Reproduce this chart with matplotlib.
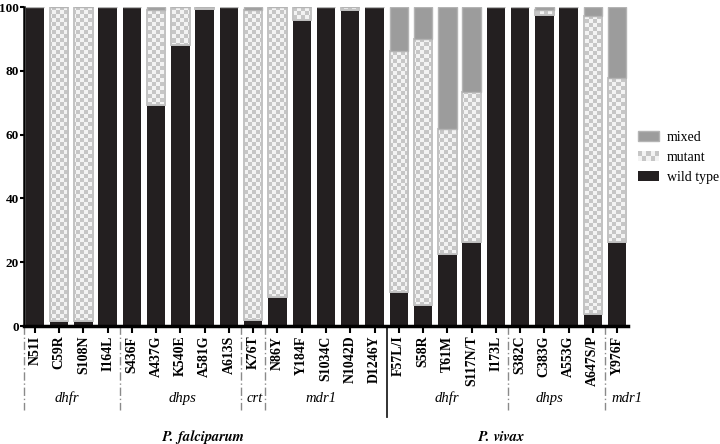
import numpy as np
import matplotlib
matplotlib.use("Agg")
import matplotlib.pyplot as plt
import matplotlib.transforms as mtrans
from matplotlib.patches import Rectangle, Patch
from matplotlib.legend_handler import HandlerBase

plt.rcParams['font.family'] = 'serif'
plt.rcParams['font.serif'] = ['Liberation Serif', 'FreeSerif', 'DejaVu Serif']

categories = ["N51I", "C59R", "S108N", "I164L", "S436F", "A437G", "K540E", "A581G",
              "A613S", "K76T", "N86Y", "Y184F", "S1034C", "N1042D", "D1246Y",
              "F57L/I", "S58R", "T61M", "S117N/T", "I173L", "S382C", "C383G",
              "A553G", "A647S/P", "Y976F"]
wild_type = [100, 1.5, 1.5, 100, 100, 69.2, 88, 99.5, 100, 2, 9, 96, 100, 99, 100,
             10.7, 6.7, 22.6, 26.2, 100, 100, 97.5, 100, 3.9, 26.4]
mutant = [0, 98.5, 98.5, 0, 0, 30, 12, 0.5, 0, 97.2, 91, 4, 0, 1, 0,
          75.5, 83.4, 39, 47.1, 0, 0, 1.5, 0, 93.4, 51.2]
mixed = [0, 0, 0, 0, 0, 0.8, 0, 0, 0, 0.8, 0, 0, 0, 0, 0,
         13.8, 9.9, 38.4, 26.7, 0, 0, 1, 0, 2.7, 22.4]
gene_labels = ["dhfr", "dhps", "crt", "mdr1", "dhfr", "dhps", "mdr1"]
gene_label_x = [1.3, 6.1, 9.05, 11.8, 17.0, 21.2, 24.4]
species = ["P. falciparum", "P. vivax"]
species_x = [6.9, 19.2]
dashed_sep = [-0.47, 3.5, 8.5, 9.5, 19.5, 23.5]
solid_sep = [14.5]

WILD = '#231f20'
MIXED = '#9c9c9c'
MIXED_EDGE = '#b4b4b4'
CHK_DARK = '#c6c6c6'
CHK_LIGHT = '#f3f3f3'
MUT_EDGE = '#c2c2c2'

fig = plt.figure(figsize=(7.2, 4.44), dpi=100)
ax = fig.add_axes([24 / 720, 1 - 326 / 444, 604 / 720, 319 / 444])

x = np.arange(len(categories))
w = 0.76
wild_arr = np.array(wild_type)
mut_arr = np.array(mutant)
mix_arr = np.array(mixed)

ax.bar(x, wild_arr, width=w, color=WILD, edgecolor='none', zorder=3)
mut_bars = ax.bar(x, mut_arr, width=w, bottom=wild_arr, facecolor='none',
                  edgecolor=MUT_EDGE, linewidth=1.4, zorder=4)
ax.bar(x, mix_arr, width=w, bottom=wild_arr + mut_arr, color=MIXED,
       edgecolor=MIXED_EDGE, linewidth=1.0, zorder=4)

# checkerboard texture for mutant bars
cols, rows = 151, 80
jj, ii = np.meshgrid(np.arange(cols), np.arange(rows))
chk = ((ii + jj) % 2).astype(float)
dark = np.array(matplotlib.colors.to_rgb(CHK_DARK))
light = np.array(matplotlib.colors.to_rgb(CHK_LIGHT))
img = dark[None, None, :] * chk[..., None] + light[None, None, :] * (1 - chk[..., None])
for b, v in zip(mut_bars, mutant):
    if v <= 0:
        continue
    im = ax.imshow(img, extent=[0, 1, 0, 1], transform=ax.transAxes, aspect='auto',
                   interpolation='nearest', zorder=3.5)
    im.set_clip_path(b)

ax.set_xlim(-0.45, 24.45)
ax.set_ylim(0, 100)
ax.set_yticks([0, 20, 40, 60, 80, 100])
ax.set_xticks(x)
ax.set_xticklabels(categories, rotation=90, fontweight='bold', fontsize=10)
for lab in ax.get_yticklabels():
    lab.set_fontweight('bold')
    lab.set_fontsize(9.5)
ax.tick_params(axis='x', length=5, width=1.5, pad=2)
ax.tick_params(axis='y', length=3, width=1.5, pad=0.5)
ax.spines['top'].set_visible(False)
ax.spines['right'].set_visible(False)
ax.spines['bottom'].set_linewidth(2.5)
ax.spines['left'].set_linewidth(1.8)
ax.spines['bottom'].set_zorder(5)

trans = mtrans.blended_transform_factory(ax.transData, ax.transAxes)
for sx in dashed_sep:
    ax.plot([sx, sx], [0, -0.263], transform=trans, clip_on=False, color='#8a8a8a',
            lw=1.0, dashes=(6, 2, 1, 2))
for sx in solid_sep:
    ax.plot([sx, sx], [0, -0.285], transform=trans, clip_on=False, color='#222222', lw=1.3)

for gx, g in zip(gene_label_x, gene_labels):
    ax.text(gx, -0.226, g, transform=trans, ha='center', va='center',
            fontstyle='italic', fontsize=10.5, family='Liberation Serif')
for sx, s in zip(species_x, species):
    ax.text(sx, -0.347, s, transform=trans, ha='center', va='center',
            fontstyle='italic', fontweight='bold', fontsize=10.5, family='FreeSerif')


class CheckerHandler(HandlerBase):
    def create_artists(self, legend, orig_handle, xdescent, ydescent, width, height,
                       fontsize, trans):
        arts = [Rectangle((-xdescent, -ydescent), width, height, facecolor=CHK_DARK,
                          edgecolor='none', transform=trans)]
        nc, nr = 5, 2
        cw, ch = width / nc, height / nr
        for r in range(nr):
            for c in range(nc):
                if (r + c) % 2 == 0:
                    arts.append(Rectangle((-xdescent + c * cw, -ydescent + r * ch), cw, ch,
                                          facecolor=CHK_LIGHT, edgecolor='none',
                                          transform=trans))
        return arts


h_mixed = Patch(facecolor=MIXED, edgecolor=MIXED_EDGE, linewidth=1.0)
h_mut = Patch(facecolor=CHK_DARK)
h_wild = Patch(facecolor=WILD, edgecolor='none')
fig.legend([h_mixed, h_mut, h_wild], ['mixed', 'mutant', 'wild type'],
           handler_map={h_mut: CheckerHandler()},
           loc='upper left', bbox_to_anchor=(638 / 720, 1 - 131 / 444), frameon=False,
           fontsize=10, handlelength=1.5, handleheight=0.75, handletextpad=0.6,
           labelspacing=0.5, borderpad=0, borderaxespad=0)

fig.savefig('out.png', dpi=100)
